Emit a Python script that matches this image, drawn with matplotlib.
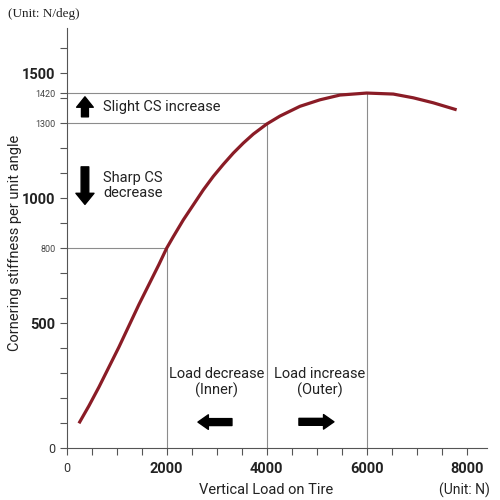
import matplotlib
matplotlib.use("Agg")
import matplotlib.pyplot as plt

# cornering stiffness curve
load = [246, 446, 646, 846, 1046, 1246, 1446, 1646, 1846, 2000, 2133, 2333, 2533,
        2733, 2933, 3133, 3333, 3533, 3733, 4000, 4266, 4666, 5066, 5466, 6000,
        6533, 6933, 7333, 7800]
stiffness = [100, 170, 245, 325, 405, 490, 575, 655, 735, 800, 846, 913, 973,
             1033, 1087, 1135, 1180, 1220, 1256, 1296, 1328, 1367, 1393, 1412, 1420,
             1416, 1401, 1381, 1353]

ref_load = [2000, 4000, 6000]
ref_cs = [800, 1300, 1420]

x_major = [2000, 4000, 6000, 8000]
y_major = [500, 1000, 1500]

curve_color = "#8a1c26"
guide_color = "#8c8c8c"
axis_color = "#555555"
font = "Roboto"

fig = plt.figure(figsize=(5, 5), dpi=100)
ax = fig.add_axes([0.1333, 0.1033, 0.84, 0.8407])

ax.hlines(ref_cs, 0, ref_load, color=guide_color, lw=0.8, zorder=1)
ax.vlines(ref_load, 0, ref_cs, color=guide_color, lw=0.8, zorder=1)
ax.plot(load, stiffness, color=curve_color, lw=2.3, solid_capstyle="butt",
        solid_joinstyle="round", zorder=3)

ax.set_xlim(0, 8400)
ax.set_ylim(0, 1680)

for s in ["top", "right"]:
    ax.spines[s].set_visible(False)
for s in ["left", "bottom"]:
    ax.spines[s].set_color(axis_color)
    ax.spines[s].set_linewidth(0.8)

# ticks
xt = list(range(0, 8001, 500))
ax.set_xticks(xt)
ax.set_xticklabels(["0" if v == 0 else (str(v) if v in x_major else "") for v in xt])
yt = list(range(0, 1601, 100)) + [1420]
ax.set_yticks(yt)
ylabels = []
for v in yt:
    if v == 0 or v in y_major or v in ref_cs:
        ylabels.append(str(v))
    else:
        ylabels.append("")
ax.set_yticklabels(ylabels)
ax.tick_params(axis="both", direction="out", length=5, width=0.8, color=axis_color)
ax.tick_params(axis="y", pad=3)
ax.tick_params(axis="x", pad=5)

for lab in ax.get_xticklabels():
    t = lab.get_text()
    lab.set_family(font)
    if t == "0":
        lab.set_fontsize(9)
        lab.set_color("#333333")
    else:
        lab.set_fontsize(10.5)
        lab.set_fontweight("bold")
        lab.set_color("#222222")
for lab in ax.get_yticklabels():
    t = lab.get_text()
    lab.set_family(font)
    if t == "0":
        lab.set_fontsize(9)
        lab.set_color("#333333")
    elif t in [str(v) for v in y_major]:
        lab.set_fontsize(10.5)
        lab.set_fontweight("bold")
        lab.set_color("#222222")
    else:
        lab.set_fontsize(6.5)
        lab.set_color("#444444")

ax.set_ylabel("Cornering stiffness per unit angle", family=font, fontsize=10.5,
              color="#222222")
ax.yaxis.set_label_coords(-0.106, 0.49)
ax.text(0.475, -0.1, "Vertical Load on Tire", transform=ax.transAxes, family=font,
        fontsize=10.5, color="#222222", ha="center", va="center")
ax.text(1.008, -0.1, "(Unit: N)", transform=ax.transAxes, family=font,
        fontsize=10, color="#222222", ha="right", va="center")
fig.text(0.016, 0.972, "(Unit: N/deg)", family="Liberation Serif", fontsize=9.5,
         color="#222222", ha="left", va="center")

# annotations
text_kw = dict(family=font, fontsize=10.5, color="#222222")
ax.text(726, 1365, "Slight CS increase", ha="left", va="center", **text_kw)
ax.text(726, 1049, "Sharp CS\ndecrease", ha="left", va="center", linespacing=1.1, **text_kw)
ax.text(2996, 263, "Load decrease\n(Inner)", ha="center", va="center", linespacing=1.2, **text_kw)
ax.text(5056, 263, "Load increase\n(Outer)", ha="center", va="center", linespacing=1.2, **text_kw)


def block_arrow(start, end, hw, hl, tw):
    ax.annotate("", xy=end, xytext=start,
                arrowprops=dict(arrowstyle=f"simple,head_width={hw},head_length={hl},tail_width={tw}",
                                color="black", shrinkA=0, shrinkB=0, mutation_scale=10))


block_arrow((366, 1325), (366, 1405), 1.2, 0.75, 0.5)
block_arrow((366, 1125), (366, 975), 1.3, 0.8, 0.55)
block_arrow((3306, 105), (2626, 105), 1.05, 0.75, 0.5)
block_arrow((4646, 106), (5346, 106), 1.05, 0.75, 0.5)

fig.savefig("out.png", dpi=100)
